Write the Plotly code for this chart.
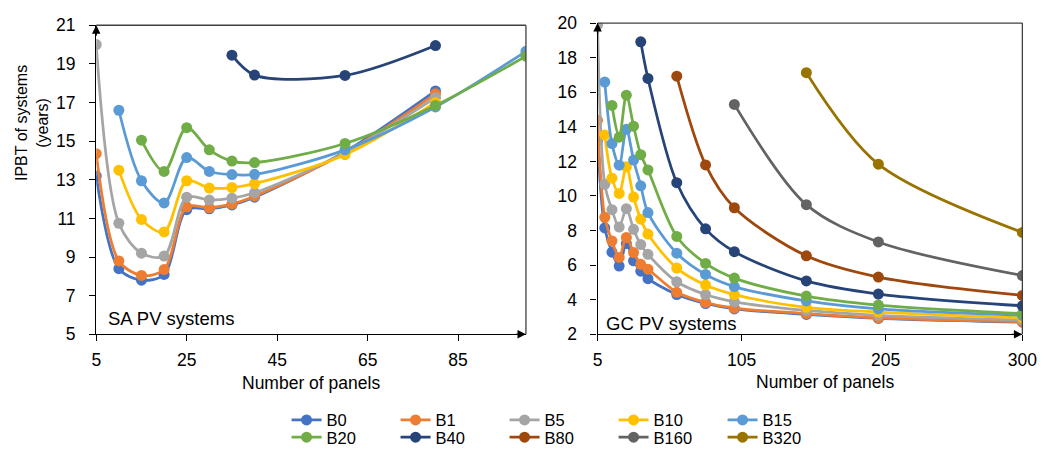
import plotly.graph_objects as go

# ---- data -------------------------------------------------------------
series_names = ["B0", "B1", "B5", "B10", "B15", "B20", "B40", "B80", "B160", "B320"]
series_colors = ["#4472C4", "#ED7D31", "#A5A5A5", "#FFC000", "#5B9BD5",
                 "#70AD47", "#264478", "#9E480E", "#636363", "#997300"]

# Stand-alone PV systems
sa_panels = [5, 10, 15, 20, 25, 30, 35, 40, 60, 80, 100]
sa_b0 = [13.2, 8.4, 7.8, 8.1, 11.45, 11.5, 11.7, 12.1, 14.45, 17.6, None]
sa_b1 = [14.35, 8.8, 8.05, 8.35, 11.6, 11.55, 11.75, 12.15, 14.4, 17.45, None]
sa_b5 = [20.0, 10.75, 9.2, 9.05, 12.1, 11.95, 12.05, 12.33, 14.4, 17.25, None]
sa_b10 = [None, 13.5, 10.95, 10.3, 12.95, 12.57, 12.6, 12.8, 14.3, 17.0, None]
sa_b15 = [None, 16.6, 12.95, 11.8, 14.15, 13.43, 13.27, 13.28, 14.55, 16.77, 19.65]
sa_b20 = [None, None, 15.05, 13.43, 15.7, 14.55, 13.97, 13.89, 14.88, 16.85, 19.4]
sa_b40 = [None, None, None, None, None, None, 19.45, 18.42, 18.4, 19.95, None]
sa_values = [sa_b0, sa_b1, sa_b5, sa_b10, sa_b15, sa_b20, sa_b40]

# Grid-connected PV systems
gc_panels = [5, 10, 15, 20, 25, 30, 35, 40, 60, 80, 100, 150, 200, 300]
gc_b0 = [13.2, 8.15, 6.75, 5.95, 7.25, 6.25, 5.65, 5.22, 4.3, 3.78, 3.47, 3.15, 2.92, 2.7]
gc_b1 = [14.38, 8.77, 7.4, 6.45, 7.6, 6.73, 6.05, 5.77, 4.43, 3.84, 3.51, 3.2, 2.95, 2.73]
gc_b5 = [19.9, 10.68, 9.21, 8.2, 9.27, 8.07, 7.19, 6.63, 5.04, 4.3, 3.88, 3.38, 3.1, 2.83]
gc_b10 = [None, 13.53, 11.03, 10.15, 11.69, 9.94, 8.66, 7.8, 5.83, 4.85, 4.3, 3.56, 3.29, 2.96]
gc_b15 = [None, 16.59, 13.03, 11.78, 13.86, 12.08, 10.59, 9.04, 6.69, 5.46, 4.76, 3.93, 3.47, 3.1]
gc_b20 = [None, None, 15.24, 13.4, 15.83, 14.04, 12.39, 11.51, 7.66, 6.1, 5.25, 4.21, 3.69, 3.2]
gc_b40 = [None, None, None, None, None, None, 18.92, 16.8, 10.77, 8.1, 6.78, 5.09, 4.33, 3.65]
gc_b80 = [None, None, None, None, None, None, None, None, 16.93, 11.8, 9.32, 6.54, 5.31, 4.25]
gc_b160 = [None, None, None, None, None, None, None, None, None, None, 15.3, 9.5, 7.34, 5.4]
gc_b320 = [None, None, None, None, None, None, None, None, None, None, None, 17.13, 11.84, 7.89]
gc_values = [gc_b0, gc_b1, gc_b5, gc_b10, gc_b15, gc_b20, gc_b40, gc_b80, gc_b160, gc_b320]

sa_xticks = [5, 25, 45, 65, 85]
sa_yticks = [5, 7, 9, 11, 13, 15, 17, 19, 21]
gc_xticks = [5, 105, 205, 300]
gc_yticks = [2, 4, 6, 8, 10, 12, 14, 16, 18, 20]

# ---- figure -----------------------------------------------------------
W, H = 1056, 455
FONT = "Liberation Sans, Arial, sans-serif"

fig = go.Figure()

def line_trace(x, y, i, xa, ya, show):
    return go.Scatter(
        x=x, y=y, name=series_names[i], mode="lines+markers",
        line=dict(color=series_colors[i], width=2.75, shape="spline", smoothing=0.9),
        marker=dict(color=series_colors[i], size=11),
        xaxis=xa, yaxis=ya, showlegend=show,
        legend="legend" if i < 5 else "legend2",
        connectgaps=False,
    )

for i, vals in enumerate(sa_values):
    fig.add_trace(line_trace(sa_panels, vals, i, "x", "y", False))
for i, vals in enumerate(gc_values):
    fig.add_trace(line_trace(gc_panels, vals, i, "x2", "y2", True))

def px_x(p):
    return p / W

def px_y(p):
    return 1 - p / H

L1, R1, T1, B1 = 93, 531, 16, 340
L2, R2, T2, B2 = 604, 1037, 13.75, 340

axis_common = dict(
    showgrid=False, zeroline=False, showline=True, linecolor="black", linewidth=1.3,
    ticks="outside", ticklen=6, tickwidth=1.2, tickcolor="black",
    tickfont=dict(family=FONT, size=17.5, color="black"),
)

legend_common = dict(orientation="h", x=px_x(287), xanchor="left", yanchor="middle",
                     entrywidth=64, itemwidth=30, font=dict(family=FONT, size=16.5),
                     bgcolor="rgba(0,0,0,0)", tracegroupgap=0)

fig.update_layout(
    width=W, height=H,
    margin=dict(l=0, r=0, t=0, b=0),
    paper_bgcolor="white", plot_bgcolor="white",
    font=dict(family=FONT, size=16, color="black"),
    xaxis=dict(domain=[px_x(L1), px_x(R1)], range=[5, 100], tickvals=sa_xticks,
               anchor="y", ticklabelstandoff=4, **axis_common),
    yaxis=dict(domain=[px_y(B1), px_y(T1)], range=[5, 21], tickvals=sa_yticks,
               anchor="x", ticklabelstandoff=10, **axis_common),
    xaxis2=dict(domain=[px_x(L2), px_x(R2)], range=[5, 300], tickvals=gc_xticks,
                anchor="y2", ticklabelstandoff=4, **axis_common),
    yaxis2=dict(domain=[px_y(B2), px_y(T2)], range=[2, 20], tickvals=gc_yticks,
                anchor="x2", ticklabelstandoff=10, **axis_common),
    legend=dict(y=px_y(430), **legend_common),
    legend2=dict(y=px_y(448.5), **legend_common),
)

# frame on the top and right of each plot area
shapes = []
for xr, yr in (("x", "y"), ("x2", "y2")):
    shapes.append(dict(type="line", xref=f"{xr} domain", yref=f"{yr} domain",
                       x0=0, x1=1, y0=1, y1=1, line=dict(color="#404040", width=1.3)))
    shapes.append(dict(type="line", xref=f"{xr} domain", yref=f"{yr} domain",
                       x0=1, x1=1, y0=0, y1=1, line=dict(color="#404040", width=1.3)))
fig.update_layout(shapes=shapes)

annotations = []
# arrow heads at the ends of the axes
for xr, yr in (("x", "y"), ("x2", "y2")):
    annotations.append(dict(xref=f"{xr} domain", yref=f"{yr} domain", x=0, y=1,
                            ax=0, ay=12, text="", showarrow=True, arrowhead=2,
                            arrowsize=1.3, arrowwidth=1.3, arrowcolor="black"))
    annotations.append(dict(xref=f"{xr} domain", yref=f"{yr} domain", x=1, y=0,
                            ax=-12, ay=0, text="", showarrow=True, arrowhead=2,
                            arrowsize=1.3, arrowwidth=1.3, arrowcolor="black"))

annotations += [
    dict(xref="paper", yref="paper", x=px_x(27), y=px_y(118), text="IPBT of systems<br>(years)",
         textangle=-90, showarrow=False, font=dict(family=FONT, size=16),
         xanchor="center", yanchor="middle"),
    dict(xref="paper", yref="paper", x=px_x(312), y=px_y(391), text="Number of panels",
         showarrow=False, font=dict(family=FONT, size=17.5), xanchor="center", yanchor="middle"),
    dict(xref="paper", yref="paper", x=px_x(836), y=px_y(390), text="Number of panels",
         showarrow=False, font=dict(family=FONT, size=17.5), xanchor="center", yanchor="middle"),
    dict(xref="paper", yref="paper", x=px_x(103), y=px_y(323), text="SA PV systems",
         showarrow=False, font=dict(family=FONT, size=18.5), xanchor="left", yanchor="middle"),
    dict(xref="paper", yref="paper", x=px_x(611), y=px_y(329), text="GC PV systems",
         showarrow=False, font=dict(family=FONT, size=18.5), xanchor="left", yanchor="middle"),
]
fig.update_layout(annotations=annotations)

fig.write_html("out.html")
